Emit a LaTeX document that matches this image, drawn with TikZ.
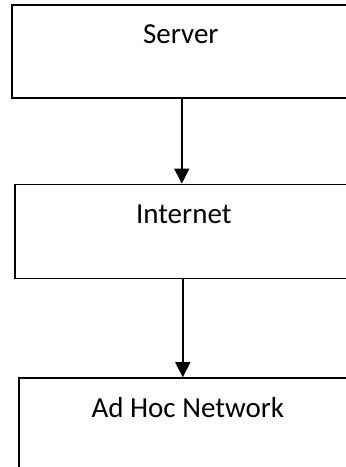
\documentclass[tikz,border=0pt]{standalone}
\usepackage{fontspec}
\setmainfont{Carlito}
\usepackage{tikz}
\usetikzlibrary{arrows.meta,positioning}
\tikzset{
  layerbox/.style={
    draw=black, line width=1.6pt, rectangle, inner sep=0pt,
    minimum width=354pt, text height=39pt, text depth=#1,
    font=\fontsize{29}{35}\selectfont, align=center,
  },
  arrow/.style={-{Triangle[length=15pt,width=15pt]}, line width=1.5pt, color=black},
}
\begin{document}
\begin{tikzpicture}[x=1pt,y=-1pt]

  \path[use as bounding box, clip] (0,0) rectangle (346,467);

  % boxes run past the right edge of the page
  \node[layerbox=54pt, anchor=north west] (server) at (11,4) {Server\hspace*{16pt}};

  \node[layerbox=55pt, below=85pt of server, xshift=3pt] (internet) {Internet\hspace*{16pt}};

  \node[layerbox=55pt, below=98pt of internet, xshift=4pt] (adhoc) {Ad Hoc Network\hspace*{16pt}};

  \draw[arrow] ([xshift=-7pt]server.south)   -- ([xshift=-7pt]server.south |- internet.north);
  \draw[arrow] ([xshift=-9pt]internet.south) -- ([xshift=-9pt]internet.south |- adhoc.north);

\end{tikzpicture}
\end{document}
